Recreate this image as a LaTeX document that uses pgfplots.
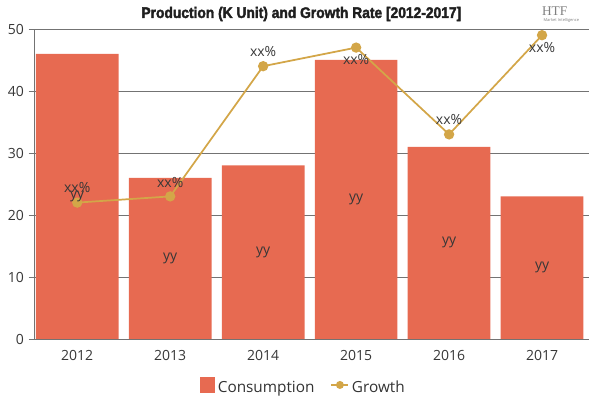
\documentclass[border=0pt]{standalone}
\usepackage{pgfplots}
\pgfplotsset{compat=1.18}
\usepackage{pgfplotstable}
\usepackage{fontspec}
\setmainfont{Open Sans}
\newfontfamily\titlefont[FakeStretch=0.9,FakeBold=2.2]{Liberation Sans Bold}
\newfontfamily\logofont{Liberation Serif}

\definecolor{barc}{RGB}{231,106,81}
\definecolor{linec}{RGB}{211,166,72}
\definecolor{gridc}{RGB}{115,115,115}
\definecolor{txtc}{RGB}{55,55,55}

% year, consumption, growth, vertical offset of the growth label
\pgfplotstableread{
x year c g goff
0 2012 46 22 11
1 2013 26 23 10.5
2 2014 28 44 11
3 2015 45 47 -9
4 2016 31 33 11
5 2017 23 49 -9
}\datatable

\begin{document}
\begin{tikzpicture}
\begin{axis}[
  set layers=standard,
  axis on top=false,
  at={(25.5pt,45.75pt)}, anchor=south west,
  scale only axis, width=416.6pt, height=232.5pt,
  xmin=-0.465, xmax=5.51, ymin=0, ymax=50,
  axis lines*=left,
  axis line style={gridc, line width=0.6pt},
  xtick=data, xticklabels={2012,2013,2014,2015,2016,2017},
  x tick style={draw=none},
  ytick={0,10,...,50},
  y tick style={gridc, line width=0.6pt},
  tick align=outside, major tick length=4pt,
  ymajorgrids, grid style={gridc, line width=0.6pt},
  tick label style={font=\fontsize{10.5}{12}\selectfont, text=txtc},
  /pgf/number format/assume math mode=true,
  xticklabel style={yshift=-1pt},
  legend columns=2,
  legend style={at={(0.4856,-0.155)}, anchor=center, draw=none, fill=none,
    font=\fontsize{11.5}{13}\selectfont, text=black!80,
    /tikz/every even column/.append style={column sep=10pt}},
  legend cell align=left,
  clip=false,
]
\addplot[ybar, bar width=0.89, fill=barc, draw=none,
  legend image code/.code={\fill[barc] (0.05cm,-0.14cm) rectangle (0.45cm,0.3cm);}]
  table[x=x, y=c]{\datatable};
\addlegendentry{Consumption}

\addplot[linec, line width=1.3pt, mark=*, mark size=3.2pt,
  mark options={fill=linec, draw=linec},
  legend image code/.code={\draw[linec, line width=1.3pt] (0cm,0.08cm)--(0.45cm,0.08cm);
    \fill[linec] (0.225cm,0.08cm) circle (2.3pt);}]
  table[x=x, y=g]{\datatable};
\addlegendentry{Growth}

% labels in the middle of each bar
\addplot[draw=none, mark=none, forget plot,
  nodes near coords={yy},
  every node near coord/.append style={anchor=center, text=txtc,
    font=\fontsize{10.5}{12}\selectfont}]
  table[x=x, y expr=\thisrow{c}/2]{\datatable};

% labels next to the growth points
\addplot[draw=none, mark=none, forget plot,
  visualization depends on={\thisrow{goff} \as \off},
  nodes near coords={xx\%},
  every node near coord/.append style={anchor=center, text=txtc,
    yshift=\off pt, font=\fontsize{10.5}{12}\selectfont}]
  table[x=x, y=g]{\datatable};
\end{axis}

\node[text=black!88, font=\titlefont\fontsize{11.5}{13}\selectfont] at (226pt,289.5pt)
  {Production (K Unit) and Growth Rate [2012-2017]};
\node[text=gray, font=\logofont\fontsize{10}{11}\selectfont, inner sep=0pt] at (416pt,292pt) {HTF};
\node[text=gray, font=\fontsize{3}{3}\selectfont, inner sep=0pt] at (421pt,284.5pt) {Market Intelligence};
\path (0,0) rectangle (450pt,300pt);
\end{tikzpicture}
\end{document}
